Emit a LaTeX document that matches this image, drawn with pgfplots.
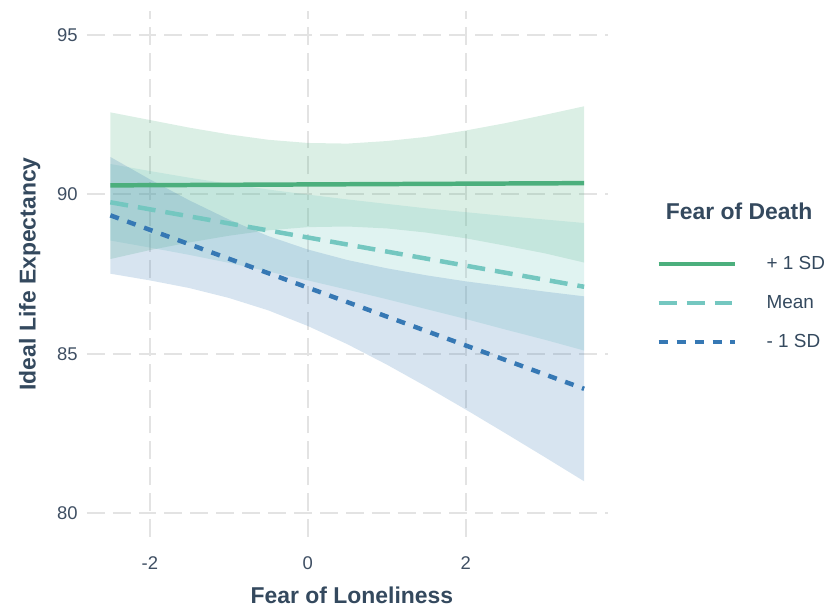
\documentclass[border=0pt]{standalone}
\usepackage{pgfplots}
\pgfplotsset{compat=1.18}
\usepackage{fontspec}
\setmainfont{Liberation Sans}
\definecolor{txt}{HTML}{34495E}
\definecolor{tick}{HTML}{3F4F63}
\definecolor{gridc}{HTML}{E3E3E3}
\definecolor{cplus}{HTML}{4CAF7D}
\definecolor{cmean}{HTML}{74C7C0}
\definecolor{cminus}{HTML}{3678B4}
\begin{document}
\begin{tikzpicture}
\begin{axis}[
  name=ax,
  scale only axis,
  width=523pt, height=528pt,
  xmin=-2.8, xmax=3.8, ymin=79.25, ymax=95.75,
  xtick={-2,0,2}, ytick={80,85,90,95},
  axis line style={draw=none},
  major tick length=0pt,
  grid=major,
  major grid style={color=gridc, line width=2pt, dash pattern=on 18pt off 8pt},
  /pgf/number format/assume math mode=true,
  ticklabel style={font=\fontsize{18.5}{21}\selectfont, text=tick},
  xticklabel style={anchor=center, yshift=-26pt},
  yticklabel style={anchor=east, inner sep=0pt, xshift=-9pt},
  xlabel={Fear of Loneliness},
  ylabel={Ideal Life Expectancy},
  label style={font=\bfseries\fontsize{23}{26}\selectfont, text=txt},
  xlabel style={at={(axis description cs:0.509,-0.1098)}, anchor=center},
  ylabel style={at={(axis description cs:-0.1094,0.5)}, anchor=center, rotate=0},
  clip=false,
  legend style={at={(axis description cs:1.093,0.445)}, anchor=west, draw=none, fill=none,
    inner sep=0pt, row sep=24.5pt, font=\fontsize{19}{22}\selectfont,
    nodes={inner sep=0pt, text=txt},
    /tikz/every odd column/.append style={column sep=29pt}},
  legend cell align=left,
  legend image code/.code={\draw[#1, line cap=butt] (0pt,0pt) -- (77pt,0pt);},
]
% bands: upper forward, lower backward
\addplot[forget plot, draw=none, fill=cplus, fill opacity=0.2] coordinates {
 (-2.5,92.57) (-2,92.33) (-1.5,92.09) (-1,91.88) (-0.5,91.71) (0,91.61) (0.5,91.59)
 (1,91.67) (1.5,91.80) (2,92.00) (2.5,92.23) (3,92.49) (3.5,92.76)
 (3.5,87.86) (3,88.15) (2.5,88.39) (2,88.62) (1.5,88.80) (1,88.93) (0.5,88.99)
 (0,88.97) (-0.5,88.87) (-1,88.70) (-1.5,88.49) (-2,88.25) (-2.5,87.97)} -- cycle;
\addplot[forget plot, draw=none, fill=cmean, fill opacity=0.22] coordinates {
 (-2.5,90.95) (-2,90.73) (-1.5,90.52) (-1,90.33) (-0.5,90.15) (0,89.99) (0.5,89.84)
 (1,89.70) (1.5,89.56) (2,89.44) (2.5,89.32) (3,89.21) (3.5,89.10)
 (3.5,85.10) (3,85.44) (2.5,85.76) (2,86.09) (1.5,86.40) (1,86.71) (0.5,87.01)
 (0,87.30) (-0.5,87.58) (-1,87.85) (-1.5,88.10) (-2,88.33) (-2.5,88.55)} -- cycle;
\addplot[forget plot, draw=none, fill=cminus, fill opacity=0.2] coordinates {
 (-2.5,91.17) (-2,90.47) (-1.5,89.81) (-1,89.21) (-0.5,88.69) (0,88.27) (0.5,87.94)
 (1,87.68) (1.5,87.46) (2,87.27) (2.5,87.11) (3,86.95) (3.5,86.80)
 (3.5,81.00) (3,81.76) (2.5,82.51) (2,83.25) (1.5,83.97) (1,84.66) (0.5,85.30)
 (0,85.87) (-0.5,86.36) (-1,86.75) (-1.5,87.06) (-2,87.30) (-2.5,87.51)} -- cycle;
% lines
\addplot[cplus, line width=4.5pt] coordinates {(-2.5,90.28) (3.5,90.35)};
\addlegendentry{+ 1 SD}
\addplot[cmean, line width=4.5pt, dash pattern=on 18pt off 10pt] coordinates {(-2.5,89.75) (3.5,87.10)};
\addlegendentry{Mean}
\addplot[cminus, line width=4.5pt, dash pattern=on 9pt off 9pt] coordinates {(-2.5,89.34) (3.5,83.90)};
\addlegendentry{- 1 SD}
\node[font=\bfseries\fontsize{23}{26}\selectfont, text=txt] at (axis description cs:1.252,0.619) {Fear of Death};
\end{axis}
\path ([xshift=-87pt, yshift=-70pt]ax.south west) rectangle ([xshift=215pt, yshift=11pt]ax.north east);
\end{tikzpicture}
\end{document}
